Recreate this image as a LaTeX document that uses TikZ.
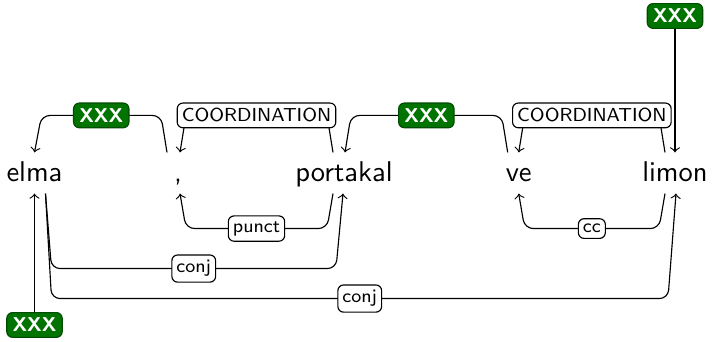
\documentclass[tikz,border=0pt]{standalone}
\usetikzlibrary{calc}
\tikzset{
  word/.style={inner xsep=0pt,inner ysep=2.6pt,text height=7.55pt,text depth=1.25pt,anchor=base,font=\sffamily},
  deplabel/.style={draw,fill=white,rounded corners=2pt,inner xsep=1.6pt,inner ysep=1.9pt,font=\sffamily\fontsize{6.6}{8}\selectfont},
  rootlabel/.style={draw=green!30!black,fill=green!45!black,text=white,rounded corners=2pt,inner xsep=2pt,inner ysep=1.9pt,font=\sffamily\bfseries\scriptsize},
  edge/.style={->,rounded corners=3pt,thin}
}
\begin{document}
\begin{tikzpicture}[x=0.35pt,y=-0.35pt]
\useasboundingbox (0,0) rectangle (715,342);
% words
\node[word] (elma) at (34.5,182) {elma};
\node[word] (comma) at (178,182) {,};
\node[word] (portakal) at (344,182) {portakal};
\node[word] (ve) at (518.7,182) {ve};
\node[word] (limon) at (675,182) {limon};
% roots
\node[rootlabel] (rootR) at (limon.north |- 0,16) {XXX};
\node[rootlabel] (rootL) at (elma.south |- 0,325) {XXX};
\draw[edge] (rootR) -- (limon.north);
\draw[edge] (rootL) -- (elma.south);
% arcs above
\draw[edge] ($(comma.north)+(-11,0)$) -- ++(-6,-37) -- node[rootlabel]{XXX} ($(elma.north)+(7,-37)$) -- (elma.north);
\draw[edge] ($(portakal.north)+(-11,0)$) -- ++(-6,-37) -- node[deplabel]{COORDINATION} ($(comma.north)+(8,-37)$) -- ($(comma.north)+(2,0)$);
\draw[edge] ($(ve.north)+(-11,0)$) -- ++(-6,-37) -- node[rootlabel]{XXX} ($(portakal.north)+(7,-37)$) -- ($(portakal.north)+(1,0)$);
\draw[edge] ($(limon.north)+(-10,0)$) -- ++(-6,-37) -- node[deplabel]{COORDINATION} ($(ve.north)+(6,-37)$) -- (ve.north);
% arcs below
\draw[edge] ($(portakal.south)+(-11,0)$) -- ++(-6,35) -- node[deplabel]{punct} ($(comma.south)+(8,35)$) -- ($(comma.south)+(2,0)$);
\draw[edge] ($(limon.south)+(-10,0)$) -- ++(-6,35) -- node[deplabel]{cc} ($(ve.south)+(6,35)$) -- (ve.south);
\draw[edge] ($(elma.south)+(11,0)$) -- ++(6,75) -- node[deplabel]{conj} ($(portakal.south)+(-8,75)$) -- ($(portakal.south)+(-1,0)$);
\draw[edge] ($(elma.south)+(11,0)$) -- ++(6,105) -- node[deplabel]{conj} ($(limon.south)+(-7,105)$) -- ($(limon.south)+(1,0)$);
\end{tikzpicture}
\end{document}
